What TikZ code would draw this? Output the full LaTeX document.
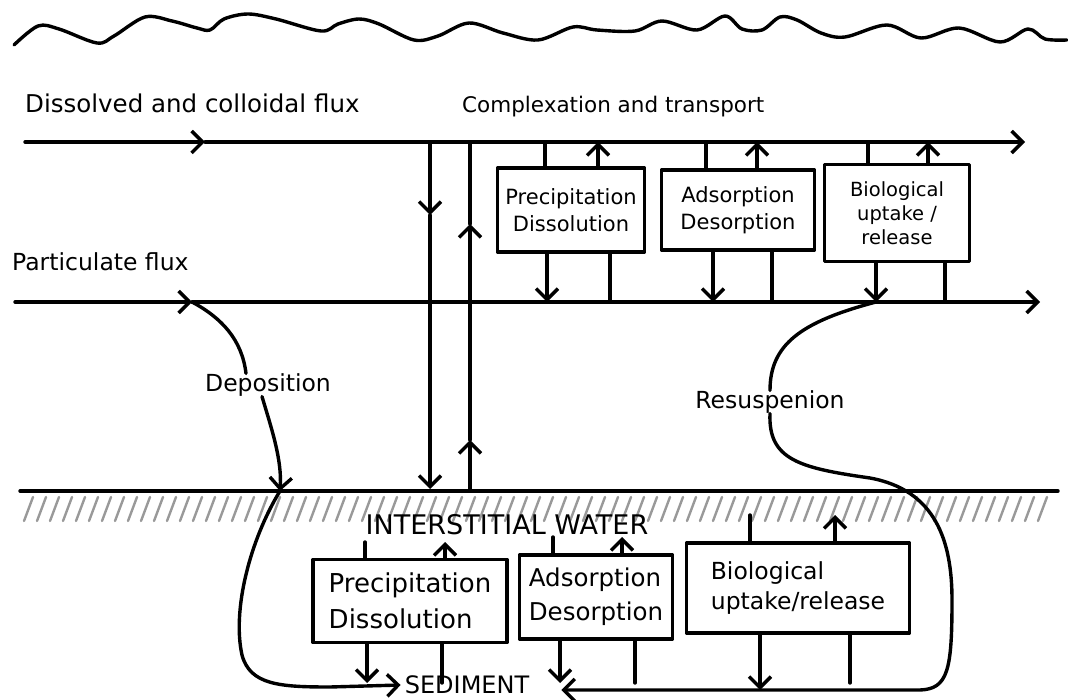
\documentclass[tikz,border=0pt]{standalone}
\usepackage{fontspec}
\setmainfont{DejaVu Sans}
\usetikzlibrary{arrows.meta}
\tikzset{
 pen/.style={line width=3.4pt, line cap=round, line join=round},
 flux/.style={pen, -{Straight Barb[length=11pt,width=22pt]}},
 proc/.style={draw, pen, align=center, inner sep=3pt, font=\fontsize{21}{27}\selectfont},
 procb/.style={proc, align=left, font=\fontsize{26}{36}\selectfont},
 lbl/.style={font=\fontsize{23.5}{26}\selectfont, inner sep=0pt},
 hatch/.style={gray!80, line width=2.4pt, line cap=round},
}
\begin{document}
\begin{tikzpicture}[x=1pt,y=-1pt]
 \useasboundingbox (0,0) rectangle (1068,700);
 % water surface
 \draw[pen] plot[smooth, tension=0.55] coordinates {(14,45) (38,26) (59,29) (97,43) (114,36) (145,17) (172,21) (197,28) (210,30) (224,19) (248,14) (276,19) (321,31) (338,24) (359,19) (379,24) (414,40) (438,36) (469,23) (503,33) (538,40) (573,27) (597,30) (635,31) (662,21) (697,30) (725,16) (742,29) (762,30) (780,17) (797,20) (821,33) (845,37) (887,25) (921,38) (959,28) (1000,42) (1028,29) (1045,39) (1067,40)};
 % flux lines
 \coordinate (d0) at (25,142);
 \coordinate (dm) at (205,142);
 \coordinate (d1) at (1025,142);
 \coordinate (p0) at (15,302);
 \coordinate (pm) at (192,302);
 \coordinate (pb) at (876,302);
 \coordinate (p1) at (1040,302);
 \node[lbl, anchor=west, font=\fontsize{24.5}{26}\selectfont] (diss) at (25,103) {Dissolved and colloidal flux};
 \node[lbl, anchor=west, font=\fontsize{21.5}{24}\selectfont] (cplx) at (462,107) {Complexation and transport};
 \node[lbl, anchor=west] (part) at (12,262) {Particulate flux};
 \draw[flux] (d0) -- (dm);
 \draw[flux] (dm) -- (d1);
 \draw[flux] (p0) -- (pm);
 \draw[flux] (pm) -- (p1);
 % sediment surface
 \coordinate (s0) at (20,491);
 \coordinate (s1) at (1058,491);
 \draw[pen] (s0) -- (s1);
 \foreach \x in {24,37,...,1050}
  \draw[hatch] (\x,521) -- (\x+9,497);
 % exchange with the sediment
 \coordinate (dn0) at (430,142);
 \coordinate (dn1) at (430,215);
 \coordinate (dn2) at (430,489);
 \coordinate (up0) at (470,491);
 \coordinate (up1) at (470,440);
 \coordinate (up2) at (470,224);
 \coordinate (up3) at (470,142);
 \draw[flux] (dn0) -- (dn1);
 \draw[flux] (dn1) -- (dn2);
 \draw[flux] (up0) -- (up1);
 \draw[flux] (up1) -- (up2);
 \draw[pen] (up2) -- (up3);
 % processes in the water column
 \node[proc, minimum width=147pt, minimum height=84pt] (prec) at (571,210) {Precipitation\\Dissolution};
 \node[proc, minimum width=153pt, minimum height=80pt] (adso) at (738,210) {Adsorption\\Desorption};
 \node[proc, minimum width=145pt, minimum height=97pt, font=\fontsize{19.5}{24}\selectfont] (bio) at (897,213) {Biological\\uptake /\\release};
 \draw[pen] (prec.north -| 545,0) -- (d0 -| 545,0);
 \draw[flux] (prec.north -| 598,0) -- (d0 -| 598,0);
 \draw[flux] (prec.south -| 547,0) -- (p0 -| 547,0);
 \draw[pen] (prec.south -| 610,0) -- (p0 -| 610,0);
 \draw[pen] (adso.north -| 706,0) -- (d0 -| 706,0);
 \draw[flux] (adso.north -| 757,0) -- (d0 -| 757,0);
 \draw[flux] (adso.south -| 713,0) -- (p0 -| 713,0);
 \draw[pen] (adso.south -| 772,0) -- (p0 -| 772,0);
 \draw[pen] (bio.north -| 868,0) -- (d0 -| 868,0);
 \draw[flux] (bio.north -| 928,0) -- (d0 -| 928,0);
 \draw[flux] (bio.south -| 876,0) -- (pb);
 \draw[pen] (bio.south -| 945,0) -- (p0 -| 945,0);
 % deposition and resuspension
 \node[lbl] (dep) at (268,385) {Deposition};
 \node[lbl] (res) at (770,402) {Resuspenion};
 \coordinate (sb) at (280,491);
 \draw[pen] (pm) .. controls (222,318) and (242,340) .. ([xshift=-22pt]dep.north);
 \draw[flux] ([xshift=-6pt]dep.south) .. controls (272,430) and (282,460) .. (sb);
 \draw[pen] (res.north) .. controls (770,345) and (800,322) .. (pb);
 % sediment
 \node[lbl, font=\fontsize{27}{30}\selectfont] (iw) at (507,525) {INTERSTITIAL WATER};
 \node[lbl, font=\fontsize{24}{26}\selectfont] (sed) at (467,685) {SEDIMENT};
 \coordinate (ib) at (0,542);
 \coordinate (ia) at (0,537);
 \coordinate (ic) at (0,515);
 \coordinate (sd) at (0,683);
 \coordinate (sr) at (0,690);
 \node[procb, minimum width=194pt, minimum height=83pt] (precb) at (410,601) {Precipitation\\Dissolution};
 \node[procb, minimum width=153pt, minimum height=84pt, font=\fontsize{24.5}{34}\selectfont] (adsob) at (596,597) {Adsorption\\Desorption};
 \node[procb, minimum width=223pt, minimum height=90pt, font=\fontsize{23.5}{30}\selectfont] (biob) at (798,588) {Biological\\uptake/release};
 \draw[pen] (precb.north -| 365,0) -- (ib -| 365,0);
 \draw[flux] (precb.north -| 445,0) -- (ib -| 445,0);
 \draw[flux] (precb.south -| 367,0) -- (sd -| 367,0);
 \draw[pen] (precb.south -| 442,0) -- (sd -| 442,0);
 \draw[pen] (adsob.north -| 553,0) -- (ia -| 553,0);
 \draw[flux] (adsob.north -| 622,0) -- (ia -| 622,0);
 \draw[flux] (adsob.south -| 560,0) -- (sd -| 560,0);
 \draw[pen] (adsob.south -| 635,0) -- (sd -| 635,0);
 \draw[pen] (biob.north -| 750,0) -- (ic -| 750,0);
 \draw[flux] (biob.north -| 835,0) -- (ic -| 835,0);
 \draw[flux] (biob.south -| 760,0) -- (sr -| 760,0);
 \draw[pen] (biob.south -| 850,0) -- (sd -| 850,0);
 % loops through the sediment
 \draw[flux] (sb) .. controls (250,540) and (232,610) .. (242,655) .. controls (250,685) and (280,687) .. (330,687) -- ([xshift=-4pt]sed.west);
 \draw[flux] (res.south) .. controls (768,460) and (800,468) .. (870,478) .. controls (935,490) and (952,540) .. (952,600) .. controls (952,670) and (948,689) .. (920,690) -- ([xshift=32pt]sed.east |- sr);
\end{tikzpicture}
\end{document}
